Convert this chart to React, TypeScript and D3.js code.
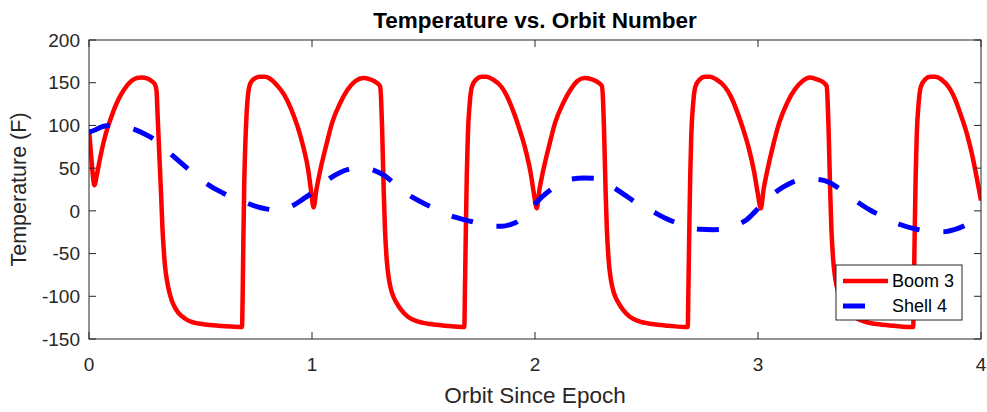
import React from "react";
import * as d3 from "d3";

const xTicks = [0, 1, 2, 3, 4];
const yTicks = [-150, -100, -50, 0, 50, 100, 150, 200];
const seriesNames = ["Boom 3", "Shell 4"];
const title = "Temperature vs. Orbit Number";
const xLabel = "Orbit Since Epoch";
const yLabel = "Temperature (F)";

// Boom 3 [orbit, temperature]
const boom3: [number, number][] = [
  [0.0, 95], [0.008, 70], [0.016, 45], [0.024, 30], [0.035, 42], [0.05, 62], [0.072, 87],
  [0.1, 110], [0.131, 130], [0.16, 143], [0.19, 152], [0.215, 155.5], [0.236, 156], [0.26, 155],
  [0.28, 152], [0.296, 148], [0.303, 140], [0.308, 110], [0.313, 80], [0.318, 50], [0.324, 15],
  [0.329, -18], [0.335, -45], [0.341, -65], [0.35, -82], [0.36, -95], [0.37, -104], [0.385, -113],
  [0.4, -119], [0.43, -126], [0.46, -130], [0.52, -133], [0.58, -134.5], [0.64, -135.5], [0.686, -136],
  [0.689, -100], [0.692, -40], [0.696, 30], [0.7, 70], [0.706, 110], [0.714, 138], [0.725, 150],
  [0.744, 155], [0.765, 157], [0.789, 157], [0.81, 155], [0.84, 148], [0.875, 136], [0.905, 120],
  [0.935, 99], [0.96, 76], [0.983, 48], [0.995, 25], [1.007, 4],
  [1.02, 25], [1.035, 45], [1.066, 79], [1.09, 103], [1.126, 126], [1.16, 142], [1.195, 152],
  [1.23, 155.5], [1.26, 154], [1.29, 150], [1.305, 146], [1.31, 130], [1.314, 100], [1.318, 60],
  [1.322, 20], [1.327, -20], [1.335, -57], [1.345, -80], [1.36, -97], [1.38, -108], [1.4, -116],
  [1.43, -124], [1.47, -129], [1.53, -132.5], [1.6, -134.5], [1.683, -136],
  [1.686, -90], [1.69, -20], [1.694, 40], [1.699, 90], [1.707, 125], [1.717, 145], [1.737, 154],
  [1.76, 157], [1.782, 157], [1.81, 154], [1.85, 145], [1.875, 134], [1.905, 115], [1.93, 96],
  [1.955, 74], [1.98, 45], [1.994, 22], [2.008, 3],
  [2.02, 25], [2.035, 45], [2.066, 79], [2.09, 103], [2.126, 126], [2.16, 142], [2.19, 152],
  [2.222, 155.5], [2.255, 154], [2.285, 150], [2.3, 146], [2.305, 130], [2.309, 100], [2.313, 60],
  [2.317, 20], [2.322, -20], [2.33, -57], [2.34, -80], [2.355, -97], [2.375, -108], [2.395, -116],
  [2.425, -124], [2.465, -129], [2.525, -132.5], [2.6, -134.5], [2.685, -136],
  [2.688, -90], [2.692, -20], [2.696, 40], [2.701, 90], [2.709, 125], [2.719, 145], [2.739, 154],
  [2.762, 157], [2.785, 157], [2.812, 154], [2.852, 145], [2.878, 134], [2.908, 115], [2.933, 96],
  [2.958, 74], [2.983, 45], [2.998, 22], [3.013, 3],
  [3.025, 25], [3.04, 45], [3.07, 79], [3.095, 103], [3.13, 126], [3.165, 142], [3.2, 152],
  [3.233, 156], [3.265, 154], [3.295, 150], [3.308, 146], [3.312, 130], [3.316, 100], [3.32, 60],
  [3.324, 20], [3.329, -20], [3.337, -57], [3.347, -80], [3.362, -97], [3.382, -108], [3.402, -116],
  [3.432, -124], [3.472, -129], [3.532, -132.5], [3.61, -134.5], [3.696, -136],
  [3.699, -90], [3.703, -20], [3.707, 40], [3.712, 90], [3.72, 125], [3.73, 145], [3.75, 154],
  [3.772, 157], [3.795, 157], [3.822, 154], [3.86, 143], [3.885, 130], [3.91, 112], [3.935, 92],
  [3.96, 66], [3.98, 40], [4.0, 12],
];

// Shell 4 [orbit, temperature]
const shell4: [number, number][] = [
  [0.0, 92], [0.03, 95], [0.066, 99], [0.1, 100], [0.15, 99], [0.206, 95], [0.25, 90],
  [0.296, 83], [0.34, 73], [0.378, 64], [0.445, 49], [0.5, 37], [0.55, 28], [0.6, 21],
  [0.632, 17], [0.7, 10], [0.752, 5], [0.8, 2], [0.842, 0.5], [0.88, 2], [0.92, 7],
  [0.961, 14], [1.0, 21], [1.036, 29], [1.08, 38], [1.126, 45], [1.17, 49], [1.215, 50.5],
  [1.26, 49], [1.32, 42], [1.36, 34], [1.395, 26], [1.45, 16], [1.507, 8], [1.55, 3],
  [1.596, -3], [1.65, -8], [1.716, -12.5], [1.76, -15.5], [1.806, -18], [1.85, -18], [1.89, -16],
  [1.925, -12], [1.96, -4], [1.993, 6], [2.03, 16], [2.082, 27], [2.12, 33], [2.157, 37],
  [2.22, 38.5], [2.27, 38], [2.299, 36.5], [2.35, 28], [2.4, 19], [2.47, 7], [2.516, 1],
  [2.58, -8], [2.665, -17], [2.7, -20], [2.74, -21.5], [2.8, -22], [2.874, -20.5], [2.92, -15],
  [2.949, -10.5], [2.99, 0], [3.039, 13], [3.08, 22], [3.114, 28], [3.17, 35], [3.233, 37],
  [3.28, 36.5], [3.323, 33], [3.38, 23], [3.443, 11], [3.502, 1], [3.57, -8], [3.637, -16],
  [3.711, -21.5], [3.77, -24], [3.83, -24.5], [3.88, -22], [3.92, -18], [3.96, -12], [4.0, -6],
];

const W = 987;
const H = 412;
const L = 89, R = 981, T = 40, B = 339;
const FONT = "'Liberation Sans', Arial, Helvetica, sans-serif";
const AX = "#262626";

export default function App() {
  const x = d3.scaleLinear().domain([0, 4]).range([L, R]);
  const y = d3.scaleLinear().domain([-150, 200]).range([B, T]);
  const line = d3
    .line<[number, number]>()
    .x((d) => x(d[0]))
    .y((d) => y(d[1]))
    .curve(d3.curveMonotoneX);
  const tick = 7;
  const legX = 836, legY = 265, legW = 126, legH = 55;

  return (
    <svg
      width={W}
      height={H}
      style={{ position: "absolute", left: 0, top: 0, background: "#fff" }}
      fontFamily={FONT}
    >
      <rect x={0} y={0} width={W} height={H} fill="#fff" />
      <defs>
        <clipPath id="plot">
          <rect x={L} y={T} width={R - L} height={B - T} />
        </clipPath>
      </defs>
      <g clipPath="url(#plot)">
        <path d={line(boom3) || ""} fill="none" stroke="#ff0000" strokeWidth={4.5} strokeLinejoin="round" />
        <path d={line(shell4) || ""} fill="none" stroke="#0000ff" strokeWidth={5} strokeDasharray="22 24" />
      </g>
      <rect x={L} y={T} width={R - L} height={B - T} fill="none" stroke={AX} strokeWidth={1} />
      {xTicks.map((t) => (
        <g key={"x" + t}>
          <line x1={x(t)} x2={x(t)} y1={B} y2={B - tick} stroke={AX} />
          <line x1={x(t)} x2={x(t)} y1={T} y2={T + tick} stroke={AX} />
          <text x={x(t)} y={371} textAnchor="middle" fontSize={19} fill={AX}>
            {t}
          </text>
        </g>
      ))}
      {yTicks.map((t) => (
        <g key={"y" + t}>
          <line x1={L} x2={L + tick} y1={y(t)} y2={y(t)} stroke={AX} />
          <line x1={R} x2={R - tick} y1={y(t)} y2={y(t)} stroke={AX} />
          <text x={80} y={y(t)} dy="0.35em" textAnchor="end" fontSize={19} fill={AX}>
            {t}
          </text>
        </g>
      ))}
      <text x={(L + R) / 2} y={28} textAnchor="middle" fontSize={22.5} fontWeight="bold" fill="#000">
        {title}
      </text>
      <text x={(L + R) / 2} y={403} textAnchor="middle" fontSize={22.5} fill={AX}>
        {xLabel}
      </text>
      <text
        transform={`translate(26, ${(T + B) / 2}) rotate(-90)`}
        textAnchor="middle"
        fontSize={21.5}
        fill={AX}
      >
        {yLabel}
      </text>
      <rect x={legX} y={legY} width={legW} height={legH} fill="#fff" stroke={AX} strokeWidth={1} />
      <line x1={843} x2={888} y1={281} y2={281} stroke="#ff0000" strokeWidth={4.5} />
      <line x1={843} x2={888} y1={306} y2={306} stroke="#0000ff" strokeWidth={5} strokeDasharray="22 24" />
      <text x={892} y={281} dy="0.35em" fontSize={18} fill="#000">
        {seriesNames[0]}
      </text>
      <text x={892} y={306} dy="0.35em" fontSize={18} fill="#000">
        {seriesNames[1]}
      </text>
    </svg>
  );
}
